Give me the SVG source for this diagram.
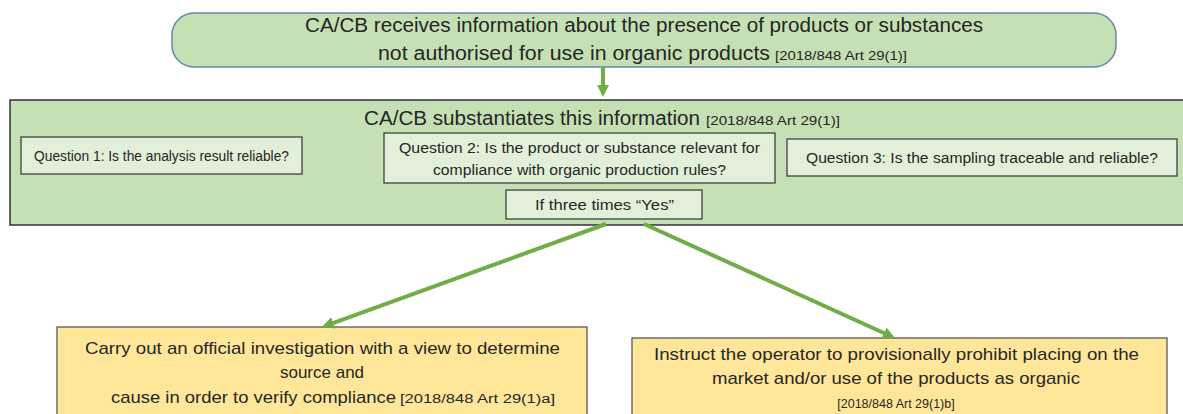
<svg xmlns="http://www.w3.org/2000/svg" width="1183" height="414" viewBox="0 0 1183 414">
<style>
text { font-family: "Liberation Sans", Arial, sans-serif; fill: #262626; }
.big { font-size: 20px; }
.mid { font-size: 17px; }
.q { font-size: 14px; }
.ref { font-size: 12.5px; }
.green { fill: #c5e0b4; }
.qbox { fill: #e2f0d9; stroke: #404040; stroke-width: 1.3; }
.ybox { fill: #ffe699; stroke: #595959; stroke-width: 1.3; }
.conn { stroke: #70ad47; stroke-width: 4; fill: none; marker-end: url(#ah); }
</style>
<defs>
<marker id="ah" markerUnits="userSpaceOnUse" markerWidth="14" markerHeight="14" refX="4" refY="6" orient="auto">
<path d="M0,0 L12,6 L0,12 z" fill="#70ad47"/>
</marker>
</defs>
<rect width="1183" height="414" fill="#ffffff"/>

<g id="receive">
<rect x="172" y="13" width="944" height="54" rx="22" ry="22" class="green" stroke="#6a84ad" stroke-width="1.5"/>
<text class="big" x="305" y="32" textLength="678" lengthAdjust="spacingAndGlyphs">CA/CB receives information about the presence of products or substances</text>
<text class="big" x="378" y="60" textLength="392" lengthAdjust="spacingAndGlyphs">not authorised  for use in organic products</text>
<text class="ref" x="775" y="60" textLength="132" lengthAdjust="spacingAndGlyphs">[2018/848  Art 29(1)]</text>
</g>

<g id="substantiate">
<rect x="10" y="100" width="1185" height="125" class="green" stroke="#333333" stroke-width="1.5"/>
<text class="big" x="364" y="125" textLength="336" lengthAdjust="spacingAndGlyphs">CA/CB substantiates this information</text>
<text class="ref" x="706" y="125" textLength="134" lengthAdjust="spacingAndGlyphs">[2018/848  Art 29(1)]</text>
</g>

<g id="q1">
<rect x="21" y="137" width="281" height="37" class="qbox"/>
<text class="q" x="34" y="161" textLength="255" lengthAdjust="spacingAndGlyphs">Question 1: Is the analysis result reliable?</text>
</g>

<g id="q2">
<rect x="384" y="133" width="391" height="50" class="qbox"/>
<text class="q" x="399" y="153" textLength="361" lengthAdjust="spacingAndGlyphs">Question 2: Is the product  or substance relevant for</text>
<text class="q" x="433" y="175" textLength="293" lengthAdjust="spacingAndGlyphs">compliance with organic production  rules?</text>
</g>

<g id="q3">
<rect x="787" y="139" width="390" height="37" class="qbox"/>
<text class="q" x="806" y="163" textLength="352" lengthAdjust="spacingAndGlyphs">Question 3: Is the sampling traceable and reliable?</text>
</g>

<g id="yes">
<rect x="506" y="190" width="196" height="29" class="qbox"/>
<text class="q" x="535" y="210" textLength="139" lengthAdjust="spacingAndGlyphs">If three times “Yes”</text>
</g>

<g id="investigate">
<rect x="57" y="327" width="530" height="100" class="ybox"/>
<text class="mid" x="85" y="354" textLength="475" lengthAdjust="spacingAndGlyphs">Carry out an official investigation with a view to determine</text>
<text class="mid" x="322" y="378" text-anchor="middle">source and</text>
<text class="mid" x="111" y="403" textLength="285" lengthAdjust="spacingAndGlyphs">cause in order to verify compliance</text>
<text class="ref" x="400" y="403" textLength="155" lengthAdjust="spacingAndGlyphs">[2018/848  Art 29(1)a]</text>
</g>

<g id="prohibit">
<rect x="632" y="338" width="535" height="90" class="ybox"/>
<text class="mid" x="654" y="360" textLength="485" lengthAdjust="spacingAndGlyphs">Instruct the operator to provisionally prohibit placing on the</text>
<text class="mid" x="712" y="384" textLength="368" lengthAdjust="spacingAndGlyphs">market and/or use of the  products as organic</text>
<text class="ref" x="896" y="408" text-anchor="middle">[2018/848  Art 29(1)b]</text>
</g>

<g id="connectors">
<path class="conn" d="M603,67 L603,89"/>
<path class="conn" d="M606,224 L329.5,324.3"/>
<path class="conn" d="M644,224 L887.7,334.7"/>
</g>
</svg>
